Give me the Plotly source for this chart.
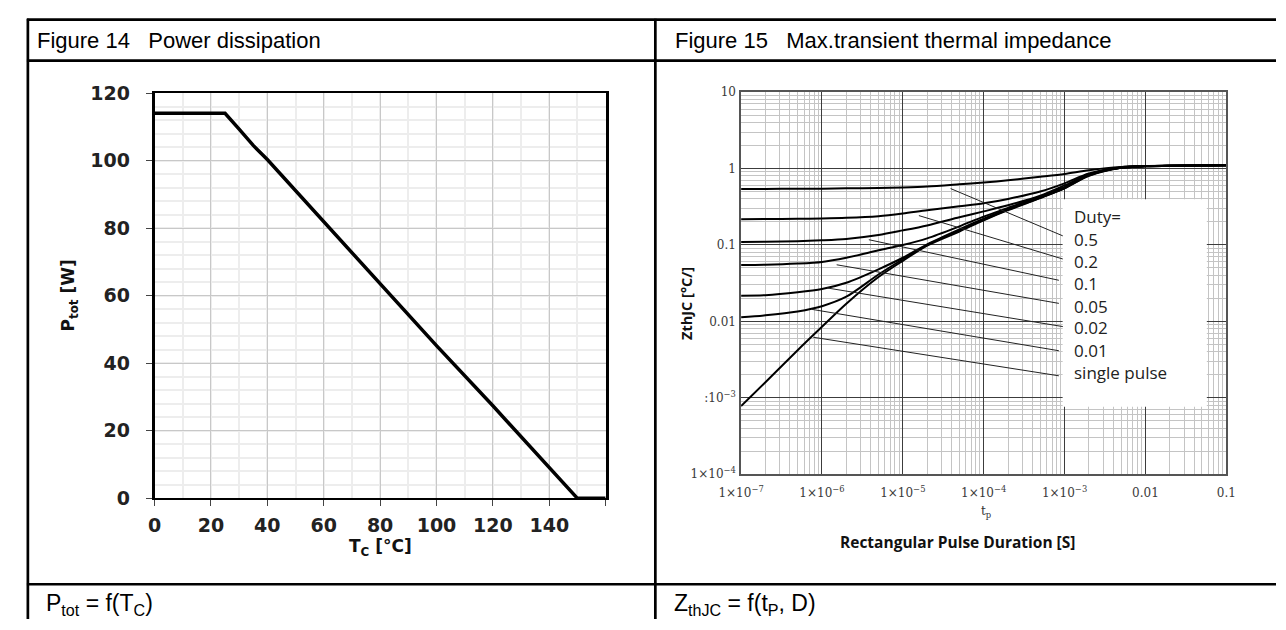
import math
import plotly.graph_objects as go

W, H = 1286, 630

# ---------------- Figure 14 : Power dissipation ----------------
tc_values = [0, 25, 30, 35, 40, 60, 80, 100, 120, 140, 150, 160]
ptot_values = [114, 114, 109.3, 104.5, 100.3, 82, 63.8, 45.2, 27.4, 9.2, 0, 0]
tc_ticks = [0, 20, 40, 60, 80, 100, 120, 140, 160]
tc_ticktext = ["0", "20", "40", "60", "80", "100", "120", "140", ""]
ptot_ticks = [0, 20, 40, 60, 80, 100, 120]
ptot_ticktext = ["0", "20", "40", "60", "80", "100", "120"]

# ---------------- Figure 15 : Max. transient thermal impedance ----------------
tp_values = [1e-7, 2e-7, 5e-7, 1e-6, 2e-6, 5e-6, 1e-5, 2e-5, 5e-5,
             1e-4, 2e-4, 5e-4, 1e-3, 2e-3, 5e-3, 1e-2, 2e-2, 1e-1]
z_d05 = [0.54, 0.54, 0.543, 0.545, 0.55, 0.556, 0.565, 0.58, 0.62,
         0.655, 0.70, 0.78, 0.85, 0.95, 1.05, 1.08, 1.09, 1.1]
z_d02 = [0.217, 0.218, 0.22, 0.222, 0.226, 0.238, 0.258, 0.285, 0.32,
         0.35, 0.40, 0.50, 0.64, 0.86, 1.04, 1.08, 1.09, 1.1]
z_d01 = [0.109, 0.11, 0.112, 0.115, 0.12, 0.135, 0.155, 0.18, 0.23,
         0.275, 0.33, 0.44, 0.60, 0.84, 1.03, 1.075, 1.09, 1.1]
z_d005 = [0.0545, 0.055, 0.057, 0.06, 0.068, 0.085, 0.10, 0.122, 0.175,
          0.235, 0.305, 0.43, 0.57, 0.83, 1.03, 1.075, 1.09, 1.1]
z_d002 = [0.0217, 0.022, 0.024, 0.0265, 0.032, 0.048, 0.068, 0.102, 0.16,
          0.22, 0.295, 0.42, 0.56, 0.82, 1.02, 1.07, 1.09, 1.1]
z_d001 = [0.0113, 0.012, 0.0135, 0.0158, 0.021, 0.041, 0.065, 0.10, 0.155,
          0.213, 0.29, 0.415, 0.555, 0.81, 1.02, 1.07, 1.09, 1.1]
z_single = [0.00078, 0.0016, 0.0042, 0.0085, 0.017, 0.038, 0.062, 0.098, 0.15,
            0.21, 0.285, 0.41, 0.55, 0.80, 1.02, 1.07, 1.09, 1.1]
z_series = [z_d05, z_d02, z_d01, z_d005, z_d002, z_d001, z_single]

duty_labels = ["Duty=", "0.5", "0.2", "0.1", "0.05", "0.02", "0.01", "single pulse"]
leader_t_start = [3.9e-5, 1.58e-5, 3.8e-6, 1.52e-6, 1.15e-6, 7.4e-7, 7.8e-7]
leader_z_start = [0.546, 0.242, 0.117, 0.055, 0.0274, 0.0144, 0.0062]
leader_t_end = [9.5e-4, 9.5e-4, 8.5e-4, 8.5e-4, 9.5e-4, 8.5e-4, 8.5e-4]
leader_z_end = [0.1315, 0.0655, 0.0345, 0.0172, 0.00855, 0.00413, 0.00194]

tp_ticks = [1e-7, 1e-6, 1e-5, 1e-4, 1e-3, 1e-2, 1e-1]
tp_ticktext = ["1×10<sup>−7</sup>", "1×10<sup>−6</sup>", "1×10<sup>−5</sup>",
               "1×10<sup>−4</sup>", "1×10<sup>−3</sup>", "0.01", "0.1"]
z_ticks = [1e-4, 1e-3, 1e-2, 1e-1, 1, 10]
z_ticktext = ["1×10<sup>−4</sup>", ":10<sup>−3</sup>", "0.01", "0.1", "1", "10"]


# ---------------- layout helpers (pixel -> paper) ----------------
def px(x):
    return x / W


def py(y):
    return 1 - y / H


# plot areas in pixels
L_X0, L_X1, L_Y0, L_Y1 = 135, 598, 85, 505
R_X0, R_X1, R_Y0, R_Y1 = 737, 1235, 84, 480
R_XR, R_YR = (-7, -1), (-4, 1)


def t_at(X):
    return 10 ** (R_XR[0] + (R_XR[1] - R_XR[0]) * (X - R_X0) / (R_X1 - R_X0))


def z_at(Y):
    return 10 ** (R_YR[1] - (R_YR[1] - R_YR[0]) * (Y - R_Y0) / (R_Y1 - R_Y0))


minor_t = [k * 10 ** d for d in range(-7, -1) for k in range(2, 10)]
minor_z = [k * 10 ** d for d in range(-4, 1) for k in range(2, 10)]

fig = go.Figure()

# Figure 14 curve
fig.add_trace(go.Scatter(x=tc_values, y=ptot_values, mode="lines",
                         line=dict(color="black", width=3.5),
                         xaxis="x", yaxis="y", hoverinfo="skip"))

# Figure 15 curves
for zs in z_series:
    fig.add_trace(go.Scatter(x=tp_values, y=zs, mode="lines",
                             line=dict(color="black", width=2, shape="spline", smoothing=0.8),
                             xaxis="x2", yaxis="y2", hoverinfo="skip"))

# white label box
bx0, bx1, by0, by1 = 1067, 1215, 195, 410
fig.add_trace(go.Scatter(x=[t_at(bx0), t_at(bx1), t_at(bx1), t_at(bx0), t_at(bx0)],
                         y=[z_at(by0), z_at(by0), z_at(by1), z_at(by1), z_at(by0)],
                         mode="lines", fill="toself", fillcolor="white",
                         line=dict(width=0, color="white"),
                         xaxis="x2", yaxis="y2", hoverinfo="skip"))

# leader lines
for ts, zs0, te, ze in zip(leader_t_start, leader_z_start, leader_t_end, leader_z_end):
    fig.add_trace(go.Scatter(x=[ts, te], y=[zs0, ze], mode="lines",
                             line=dict(color="#222222", width=1),
                             xaxis="x2", yaxis="y2", hoverinfo="skip"))

annotations = []
# headers
hdr_font = dict(family="Liberation Sans, Arial", size=22, color="black")
annotations.append(dict(text="Figure\u00a014\u00a0\u00a0\u00a0Power dissipation",
                        x=px(12), y=py(31), xref="paper", yref="paper",
                        xanchor="left", yanchor="middle", showarrow=False, font=hdr_font))
annotations.append(dict(text="Figure\u00a015\u00a0\u00a0\u00a0Max.transient thermal impedance",
                        x=px(667), y=py(31), xref="paper", yref="paper",
                        xanchor="left", yanchor="middle", showarrow=False, font=hdr_font))
# footers
ftr_font = dict(family="Liberation Sans, Arial", size=23, color="black")
annotations.append(dict(text="P<sub>tot</sub> = f(T<sub>C</sub>)",
                        x=px(22), y=py(615), xref="paper", yref="paper",
                        xanchor="left", yanchor="middle", showarrow=False, font=ftr_font))
annotations.append(dict(text="Z<sub>thJC</sub> = f(t<sub>P</sub>, D)",
                        x=px(666), y=py(615), xref="paper", yref="paper",
                        xanchor="left", yanchor="middle", showarrow=False, font=ftr_font))
# Figure 14 axis titles
ax14_font = dict(family="DejaVu Sans", size=17, color="#111111", weight="bold")
annotations.append(dict(text="P<sub>tot</sub> [W]", x=px(48), y=py(295),
                        xref="paper", yref="paper", textangle=-90,
                        xanchor="center", yanchor="middle", showarrow=False, font=ax14_font))
annotations.append(dict(text="T<sub>C</sub> [°C]", x=px(367), y=py(556),
                        xref="paper", yref="paper",
                        xanchor="center", yanchor="middle", showarrow=False, font=ax14_font))
# Figure 15 axis titles
annotations.append(dict(text="ZthJC [°C/]", x=px(681), y=py(303),
                        xref="paper", yref="paper", textangle=-90,
                        xanchor="center", yanchor="middle", showarrow=False,
                        font=dict(family="Open Sans", size=14.5, color="#111111", weight="bold")))
annotations.append(dict(text="t<sub>p</sub>", x=px(988), y=py(519),
                        xref="paper", yref="paper",
                        xanchor="center", yanchor="middle", showarrow=False,
                        font=dict(family="DejaVu Serif", size=12, color="#333333")))
annotations.append(dict(text="Rectangular Pulse Duration [S]", x=px(959), y=py(550),
                        xref="paper", yref="paper",
                        xanchor="center", yanchor="middle", showarrow=False,
                        font=dict(family="Open Sans", size=15.5, color="#111111", weight="bold")))
# label box texts
label_y_px = [213, 237, 260, 282, 306, 328, 352, 375]
for lab, ypx in zip(duty_labels, label_y_px):
    annotations.append(dict(text=lab, x=px(1077), y=py(ypx), xref="paper", yref="paper",
                            xanchor="left", yanchor="middle", showarrow=False,
                            font=dict(family="Open Sans", size=17, color="#222222")))

# table lines
shapes = []
line_style = dict(color="black", width=2.7)
for yl in [9, 51.5, 594]:
    shapes.append(dict(type="line", xref="paper", yref="paper",
                       x0=px(4), x1=1, y0=py(yl), y1=py(yl), line=line_style))
for xl in [5, 649]:
    shapes.append(dict(type="line", xref="paper", yref="paper",
                       x0=px(xl), x1=px(xl), y0=py(8), y1=0, line=line_style))

tick14_font = dict(family="DejaVu Sans", size=19, color="#222222", weight="bold")
tick15_font = dict(family="DejaVu Serif", size=12, color="#3a3a3a")

fig.update_layout(
    width=W, height=H, autosize=False,
    margin=dict(l=0, r=0, t=0, b=0),
    paper_bgcolor="white", plot_bgcolor="white",
    showlegend=False,
    annotations=annotations, shapes=shapes,
    xaxis=dict(domain=[px(L_X0), px(L_X1)], range=[0, 160], anchor="y",
               tickmode="array", tickvals=tc_ticks, ticktext=tc_ticktext,
               showgrid=True, gridcolor="#c8c8c8", gridwidth=1,
               minor=dict(tickmode="linear", tick0=0, dtick=10, showgrid=True,
                          gridcolor="#ededed", gridwidth=2),
               showline=True, linecolor="black", linewidth=2, mirror=True,
               ticks="outside", ticklen=6, tickcolor="#444444",
               tickfont=tick14_font, zeroline=False, ticklabelstandoff=3),
    yaxis=dict(domain=[py(L_Y1), py(L_Y0)], range=[0, 120], anchor="x",
               tickmode="array", tickvals=ptot_ticks, ticktext=ptot_ticktext,
               showgrid=True, gridcolor="#c8c8c8", gridwidth=1,
               minor=dict(tickmode="linear", tick0=0, dtick=4, showgrid=True,
                          gridcolor="#ededed", gridwidth=2),
               showline=True, linecolor="black", linewidth=2.5, mirror=True,
               ticks="outside", ticklen=6, tickcolor="#444444",
               tickfont=tick14_font, zeroline=False, ticklabelstandoff=12),
    xaxis2=dict(domain=[px(R_X0), px(R_X1)], type="log", range=list(R_XR), anchor="y2",
                tickmode="array", tickvals=tp_ticks, ticktext=tp_ticktext,
                showgrid=True, gridcolor="#3c3c3c", gridwidth=1.3,
                minor=dict(tickmode="array", tickvals=minor_t, showgrid=True,
                           gridcolor="#c4c4c4", gridwidth=1),
                showline=True, linecolor="#555555", linewidth=1.5, mirror=True,
                ticks="", tickfont=tick15_font, zeroline=False, ticklabelstandoff=7),
    yaxis2=dict(domain=[py(R_Y1), py(R_Y0)], type="log", range=list(R_YR), anchor="x2",
                tickmode="array", tickvals=z_ticks, ticktext=z_ticktext,
                showgrid=True, gridcolor="#3c3c3c", gridwidth=1.3,
                minor=dict(tickmode="array", tickvals=minor_z, showgrid=True,
                           gridcolor="#c4c4c4", gridwidth=1),
                showline=True, linecolor="#555555", linewidth=1.5, mirror=True,
                ticks="", tickfont=tick15_font, zeroline=False, ticklabelstandoff=1),
)

fig.write_html("out.html")
